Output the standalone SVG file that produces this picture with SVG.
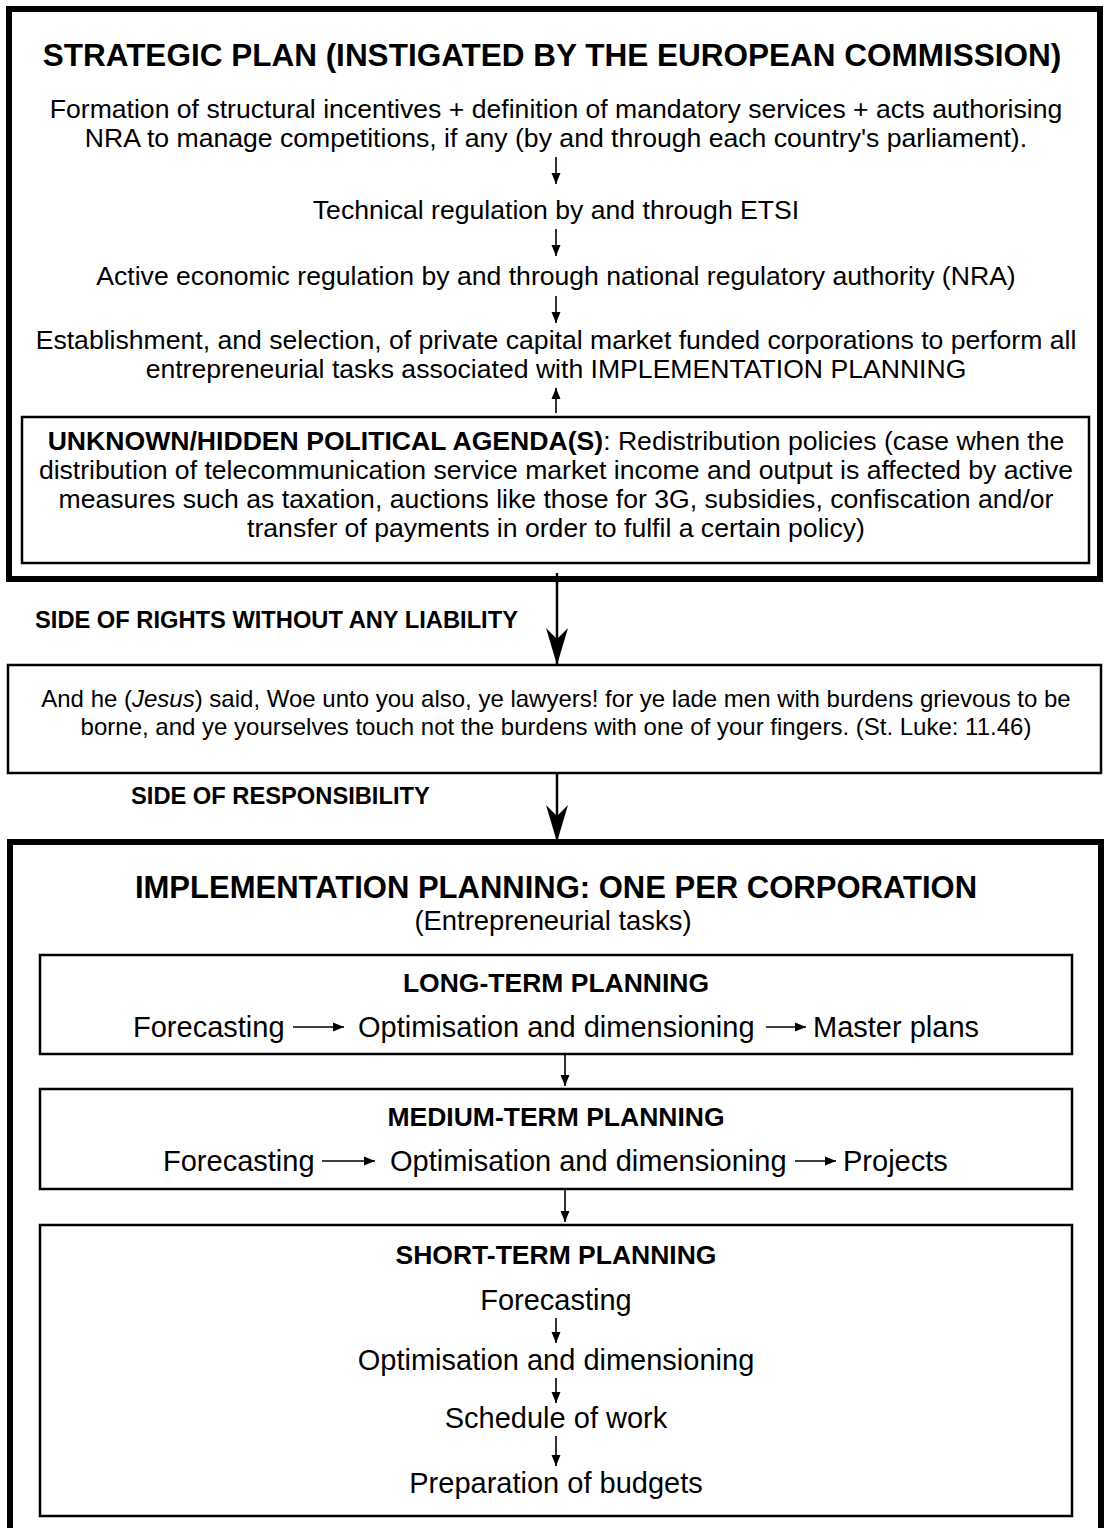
<svg xmlns="http://www.w3.org/2000/svg" width="1104" height="1528" viewBox="0 0 1104 1528">
<style>
text{font-family:"Liberation Sans",Arial,sans-serif;fill:#000}
.t1{font-size:31.5px;font-weight:bold;text-anchor:middle}
.b{font-size:26.6px;text-anchor:middle}
.lab{font-size:23.7px;font-weight:bold}
.q{font-size:24px;text-anchor:middle}
.h{font-size:26.5px;font-weight:bold;text-anchor:middle}
.f{font-size:29px}
.fc{font-size:29px;text-anchor:middle}
.thick{fill:none;stroke:#000;stroke-width:6}
.box{fill:#fff;stroke:#000;stroke-width:2.5}
.big{stroke:#000;stroke-width:2.5;fill:none;marker-end:url(#bigHead)}
.sm{stroke:#000;stroke-width:1.6;fill:none;marker-end:url(#smHead)}
</style>
<defs>
<marker id="bigHead" markerUnits="userSpaceOnUse" viewBox="-38 -12 40 24" markerWidth="40" markerHeight="24" refX="0" refY="0" orient="auto">
<path d="M0,0 L-37,-11 L-26,0 L-37,11 Z" fill="#000"/>
</marker>
<marker id="smHead" markerUnits="userSpaceOnUse" viewBox="-12 -6 14 12" markerWidth="14" markerHeight="12" refX="0" refY="0" orient="auto">
<path d="M0,0 L-11,-4.5 L-11,4.5 Z" fill="#000"/>
</marker>
</defs>
<rect width="1104" height="1528" fill="#fff"/>

<g id="strategic-plan">
<rect class="thick" x="9" y="9" width="1091" height="570"/>
<text class="t1" x="552" y="66">STRATEGIC PLAN (INSTIGATED BY THE EUROPEAN COMMISSION)</text>
<text class="b" x="556" y="118">Formation of structural incentives + definition of mandatory services + acts authorising</text>
<text class="b" x="556" y="147">NRA to manage competitions, if any (by and through each country's parliament).</text>
<text class="b" x="556" y="219">Technical regulation by and through ETSI</text>
<text class="b" x="556" y="285">Active economic regulation by and through national regulatory authority (NRA)</text>
<text class="b" x="556" y="349">Establishment, and selection, of private capital market funded corporations to perform all</text>
<text class="b" x="556" y="378">entrepreneurial tasks associated with IMPLEMENTATION PLANNING</text>
</g>

<g id="hidden-agenda">
<rect class="box" x="22" y="417" width="1067" height="146"/>
<text class="b" x="556" y="450"><tspan font-weight="bold">UNKNOWN/HIDDEN POLITICAL AGENDA(S)</tspan>: Redistribution policies (case when the</text>
<text class="b" x="556" y="479">distribution of telecommunication service market income and output is affected by active</text>
<text class="b" x="556" y="508">measures such as taxation, auctions like those for 3G, subsidies, confiscation and/or</text>
<text class="b" x="556" y="537">transfer of payments in order to fulfil a certain policy)</text>
</g>

<g id="label-rights">
<text class="lab" x="35" y="628">SIDE OF RIGHTS WITHOUT ANY LIABILITY</text>
</g>

<g id="quote">
<rect class="box" x="8" y="665" width="1093" height="108"/>
<text class="q" x="556" y="707">And he (<tspan font-style="italic">Jesus</tspan>) said, Woe unto you also, ye lawyers! for ye lade men with burdens grievous to be</text>
<text class="q" x="556" y="735">borne, and ye yourselves touch not the burdens with one of your fingers. (St. Luke: 11.46)</text>
</g>

<g id="label-responsibility">
<text class="lab" x="131" y="804">SIDE OF RESPONSIBILITY</text>
</g>

<g id="implementation-planning">
<rect class="thick" x="10" y="842" width="1091" height="800"/>
<text class="t1" x="556" y="898" style="font-size:31px">IMPLEMENTATION PLANNING: ONE PER CORPORATION</text>
<text class="fc" x="553" y="930" style="font-size:27.4px">(Entrepreneurial tasks)</text>
</g>

<g id="long-term">
<rect class="box" x="40" y="955" width="1032" height="99"/>
<text class="h" x="556" y="992">LONG-TERM PLANNING</text>
<text class="f" x="133" y="1037">Forecasting</text>
<text class="f" x="358" y="1037">Optimisation and dimensioning</text>
<text class="f" x="813" y="1037">Master plans</text>
</g>

<g id="medium-term">
<rect class="box" x="40" y="1089" width="1032" height="100"/>
<text class="h" x="556" y="1126">MEDIUM-TERM PLANNING</text>
<text class="f" x="163" y="1171">Forecasting</text>
<text class="f" x="390" y="1171">Optimisation and dimensioning</text>
<text class="f" x="843" y="1171">Projects</text>
</g>

<g id="short-term">
<rect class="box" x="40" y="1225" width="1032" height="291"/>
<text class="h" x="556" y="1264">SHORT-TERM PLANNING</text>
<text class="fc" x="556" y="1310">Forecasting</text>
<text class="fc" x="556" y="1370">Optimisation and dimensioning</text>
<text class="fc" x="556" y="1428">Schedule of work</text>
<text class="fc" x="556" y="1493">Preparation of budgets</text>
</g>

<g id="connectors">
<line class="sm" x1="556" y1="157" x2="556" y2="184"/>
<line class="sm" x1="556" y1="229" x2="556" y2="256"/>
<line class="sm" x1="556" y1="296" x2="556" y2="323"/>
<line class="sm" x1="556" y1="413" x2="556" y2="388"/>
<line class="big" x1="557" y1="573" x2="557" y2="665"/>
<line class="big" x1="557" y1="773" x2="557" y2="842"/>
<line class="sm" x1="293" y1="1027" x2="344" y2="1027"/>
<line class="sm" x1="766" y1="1027" x2="806" y2="1027"/>
<line class="sm" x1="565" y1="1055" x2="565" y2="1086"/>
<line class="sm" x1="322" y1="1161" x2="375" y2="1161"/>
<line class="sm" x1="795" y1="1161" x2="836" y2="1161"/>
<line class="sm" x1="565" y1="1190" x2="565" y2="1222"/>
<line class="sm" x1="556" y1="1318" x2="556" y2="1343"/>
<line class="sm" x1="556" y1="1378" x2="556" y2="1403"/>
<line class="sm" x1="556" y1="1436" x2="556" y2="1466"/>
</g>
</svg>
